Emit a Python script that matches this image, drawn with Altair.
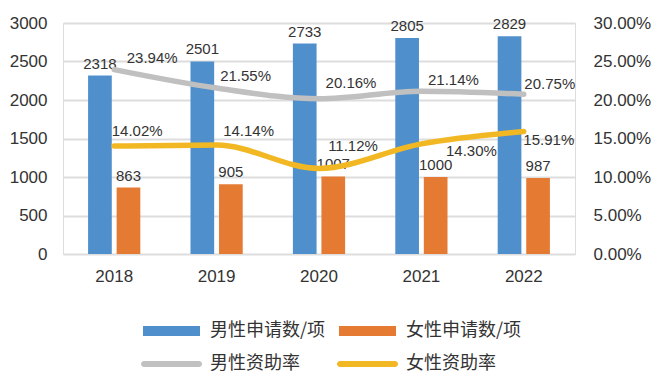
import altair as alt
import pandas as pd

# ---- data ----
years = ["2018", "2019", "2020", "2021", "2022"]
male_apps = [2318, 2501, 2733, 2805, 2829]
female_apps = [863, 905, 1007, 1000, 987]
male_rate = [23.94, 21.55, 20.16, 21.14, 20.75]
female_rate = [14.02, 14.14, 11.12, 14.30, 15.91]
series = ["男性申请数/项", "女性申请数/项", "男性资助率", "女性资助率"]
colors = ["#4E8FCC", "#E57A33", "#C0C0C0", "#F2B824"]

bar_df = pd.DataFrame({
    "year": years * 2,
    "series": [series[0]] * 5 + [series[1]] * 5,
    "value": male_apps + female_apps,
})
line_df = pd.DataFrame({
    "year": years * 2,
    "series": [series[2]] * 5 + [series[3]] * 5,
    "rate": [v / 100 for v in male_rate] + [v / 100 for v in female_rate],
})

# label offsets (layout only)
male_off = [(38, -12), (29, -12), (32, -16), (32, -11), (26, -10)]
female_off = [(23, -15), (32, -14), (34, -22), (50, 7), (25, 9)]

NUM_FONT = "Liberation Sans"
CJK_FONT = "Noto Sans CJK SC"
TXT = "#333333"

x_enc = alt.X(
    "year:N",
    sort=years,
    scale=alt.Scale(paddingInner=0.49, paddingOuter=0.245),
    axis=alt.Axis(title=None, labelAngle=0, ticks=False, domain=False,
                  labelFontSize=17, labelPadding=14, labelFont=NUM_FONT,
                  labelColor=TXT, grid=False),
)

shape_expr = ("datum.index < 2 ? 'M-5.7,-1H5.7V1H-5.7Z' : "
              "'M-5.5,-0.6H5.5A0.6,0.6 0 0 1 5.5,0.6H-5.5A0.6,0.6 0 0 1 -5.5,-0.6Z'")

color_enc = alt.Color(
    "series:N",
    scale=alt.Scale(domain=series, range=colors),
    legend=alt.Legend(
        title=None, orient="none", legendX=99.5, legendY=299,
        direction="horizontal", columns=2, gridAlign="all",
        symbolSize=100, labelFontSize=18, labelFont=CJK_FONT, labelColor=TXT,
        labelOffset=29.5, columnPadding=11, rowPadding=15,
        symbolType=alt.ExprRef(expr=shape_expr),
        symbolFillColor=alt.ExprRef(expr="scale('color', datum.value)"),
        symbolStrokeWidth=0, symbolOpacity=1,
    ),
)

y_left = alt.Y(
    "value:Q",
    scale=alt.Scale(domain=[0, 3000]),
    axis=alt.Axis(title=None, values=[0, 500, 1000, 1500, 2000, 2500, 3000],
                  format="d",
                  ticks=False, domain=False, gridColor="#DDDDDD", gridWidth=2,
                  labelFontSize=17, labelPadding=16, labelFont=NUM_FONT,
                  labelColor=TXT),
)

xoff = alt.XOffset("series:N", sort=series[:2], scale=alt.Scale(paddingInner=0.17))

bars = alt.Chart(bar_df).mark_bar().encode(
    x=x_enc, xOffset=xoff, y=y_left, color=color_enc,
)
bar_text = alt.Chart(bar_df).mark_text(
    baseline="bottom", dy=-4, fontSize=15, font=NUM_FONT, color=TXT
).encode(x=x_enc, xOffset=xoff, y=y_left, text="value:Q")
left = alt.layer(bars, bar_text)

y_right = alt.Y(
    "rate:Q",
    scale=alt.Scale(domain=[0, 0.3]),
    axis=alt.Axis(title=None, orient="right", format=".2%",
                  values=[0, 0.05, 0.1, 0.15, 0.2, 0.25, 0.3],
                  ticks=False, domain=False, grid=False,
                  labelFontSize=17, labelPadding=18, labelFont=NUM_FONT,
                  labelColor=TXT),
)

lines = alt.Chart(line_df).mark_line(
    strokeWidth=5.5, interpolate="monotone", strokeCap="round"
).encode(x=x_enc, y=y_right, color=color_enc)

label_layers = []
for s, offs in [(series[2], male_off), (series[3], female_off)]:
    for yr, (dx, dy) in zip(years, offs):
        label_layers.append(
            alt.Chart(line_df).transform_filter(
                (alt.datum.series == s) & (alt.datum.year == yr)
            ).mark_text(
                dx=dx, dy=dy, fontSize=15, font=NUM_FONT, color=TXT,
                align="center", baseline="middle"
            ).encode(x=x_enc, y=y_right, text=alt.Text("rate:Q", format=".2%"))
        )

right = alt.layer(lines, *label_layers)

chart = alt.layer(left, right).resolve_scale(y="independent").properties(
    width=512, height=231,
    padding={"left": 55, "top": 15, "right": 76, "bottom": 120},
    autosize=alt.AutoSizeParams(type="none"),
).configure_view(stroke=None).configure(background="white")

chart.save("out.html", embed_options={"renderer": "svg", "actions": False})
